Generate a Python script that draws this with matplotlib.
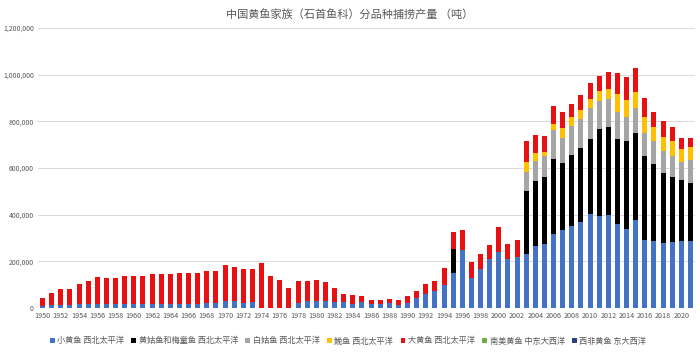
import matplotlib
matplotlib.use("Agg")
import matplotlib.pyplot as plt
import numpy as np

plt.rcParams['font.family'] = ['Noto Sans CJK SC', 'DejaVu Sans']

years = list(range(1950, 2022))

# values in thousand tonnes
small_yellow = [10, 12, 14, 14, 16, 17, 19, 19, 19, 19, 19, 19, 19, 18, 18, 18, 18, 18, 20, 20,
                29, 30, 20, 25, 0, 0, 0, 0, 20, 32, 32, 32, 26, 26, 17, 26, 17, 17, 21, 14,
                21, 43, 61, 75, 100, 150, 250, 129, 168, 208, 240, 208, 219,
                231, 264, 276, 318, 336, 350, 370, 403, 396, 397, 361, 339, 376, 290, 287, 280, 283, 288, 286]
croaker_meitong = [0] * 45 + [105] + [0] * 7 + \
                  [271, 281, 287, 319, 285, 307, 315, 321, 372, 378, 363, 376, 375, 360, 331, 297, 280, 260, 251]
white_croaker = [0] * 53 + [81, 86, 89, 126, 107, 124, 127, 132, 121, 120, 117, 105, 107, 99, 97, 97, 90, 78, 97]
miiuy = [0] * 53 + [43, 32, 18, 26, 43, 36, 36, 41, 39, 42, 76, 72, 66, 71, 59, 57, 64, 57, 57]
large_yellow = [32, 53, 69, 69, 88, 98, 114, 109, 109, 118, 118, 118, 125, 126, 126, 133, 133, 133, 138, 138,
                157, 146, 149, 144, 193, 137, 121, 87, 96, 84, 88, 80, 60, 34, 39, 25, 17, 17, 19, 19,
                29, 30, 40, 41, 71, 71, 83, 67, 65, 62, 108, 68, 71,
                89, 79, 66, 76, 69, 57, 64, 66, 67, 74, 91, 97, 104, 81, 67, 70, 60, 47, 37]
sa_croaker = [0] * 72
wa_croaker = [0] * 72

series = [
    ("小黄鱼 西北太平洋", small_yellow, "#4472C4"),
    ("黄姑鱼和梅童鱼 西北太平洋", croaker_meitong, "#000000"),
    ("白姑鱼 西北太平洋", white_croaker, "#A5A5A5"),
    ("鮸鱼 西北太平洋", miiuy, "#FFC000"),
    ("大黄鱼 西北太平洋", large_yellow, "#E81010"),
    ("南美黄鱼 中东大西洋", sa_croaker, "#70AD47"),
    ("西非黄鱼 东大西洋", wa_croaker, "#264478"),
]

fig = plt.figure(figsize=(7.0, 3.56), dpi=100)
ax = fig.add_axes([38 / 700, 1 - 308 / 356, 657 / 700, 280 / 356])

x = np.arange(len(years))
bottom = np.zeros(len(years))
for name, vals, col in series:
    v = np.array(vals, dtype=float) * 1000
    ax.bar(x, v, 0.55, bottom=bottom, color=col, label=name, linewidth=0)
    bottom += v

ax.set_xlim(-0.5, len(years) - 0.5)
ax.set_ylim(0, 1200000)
yt = np.arange(0, 1200001, 200000)
ax.set_yticks(yt)
ax.set_yticklabels([f"{int(t):,}" for t in yt], fontsize=5, color="#595959")
ax.set_xticks(x[::2])
ax.set_xticklabels([str(y) for y in years[::2]], fontsize=5.2, color="#595959")
ax.tick_params(axis='both', length=0, pad=3)
ax.grid(axis='y', color="#D9D9D9", linewidth=0.7)
ax.set_axisbelow(True)
for s in ax.spines.values():
    s.set_visible(False)

fig.text(0.5, 1 - 14 / 356, "中国黄鱼家族（石首鱼科）分品种捕捞产量 （吨）", ha='center', va='center',
         fontsize=8, color="#595959")

fig.legend(loc='center', bbox_to_anchor=(0.497, 1 - 341 / 356), ncol=7, fontsize=5.9, frameon=False,
           handlelength=0.6, handleheight=0.6, handletextpad=0.3, columnspacing=0.9,
           labelcolor="#595959")

fig.savefig("out.png", dpi=100)
